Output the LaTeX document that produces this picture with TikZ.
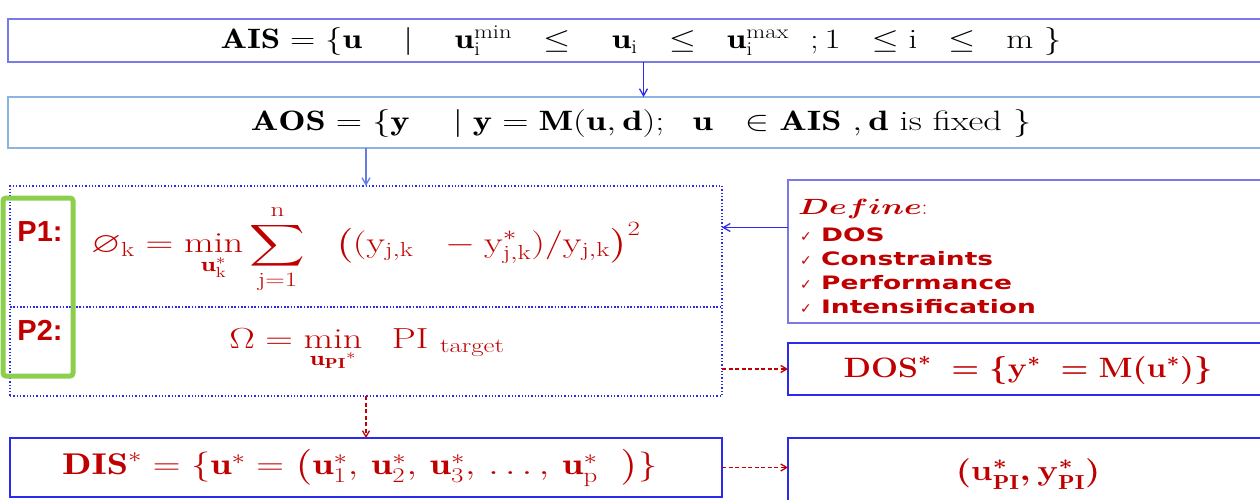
\RequirePackage{fix-cm}
\documentclass[tikz,border=0pt]{standalone}
\usepackage{amsmath,amssymb,bm}
\usepackage{fontspec}
\usepackage{graphicx}
\usetikzlibrary{arrows.meta}
\newfontfamily\labelfont{Liberation Sans}
\newfontfamily\listfont{DejaVu Sans}[FakeStretch=1.43]
\newfontfamily\tickfont{DejaVu Sans}
\newcommand\widen[2]{\scalebox{#1}[1]{#2}}
\definecolor{dred}{HTML}{C00000}
\definecolor{boxblue}{HTML}{2B2BF0}
\definecolor{aisblue}{HTML}{7A7AE6}
\definecolor{aosblue}{HTML}{8CB4E0}
\definecolor{lgreen}{HTML}{8CCF4C}
\begin{document}
\begin{tikzpicture}[x=1pt,y=-1pt,
  frame/.style={draw, line width=1.3pt, inner sep=0pt, outer sep=0pt, anchor=north west},
  formula/.style={inner sep=0pt},
  solidarrow/.style={draw=boxblue, line width=1.3pt, -{Straight Barb[length=7pt,width=8pt]}},
  dasharrow/.style={draw=dred, line width=1.3pt, dash pattern=on 4pt off 2.5pt, -{Straight Barb[length=6pt,width=7pt]}},
  redtext/.style={text=dred},
  listitem/.style={anchor=west, text=dred, inner sep=0pt, font=\listfont\bfseries\fontsize{18.5}{20}\selectfont}]
\useasboundingbox (0,0) rectangle (1260,500);
\clip (0,0) rectangle (1260,500);

% frames
\node[frame, draw=aisblue, minimum width=1257pt, minimum height=43pt] (ais) at (8,19) {};
\node[frame, draw=aosblue, minimum width=1257pt, minimum height=51pt] (aos) at (8,97) {};
\node[frame, draw=boxblue, dotted, line width=1.6pt, minimum width=712pt, minimum height=121pt] (p1) at (10,186) {};
\node[frame, draw=boxblue, dotted, line width=1.6pt, minimum width=712pt, minimum height=89pt] (p2) at (10,307) {};
\node[frame, draw=aisblue, minimum width=477pt, minimum height=143pt] (define) at (788,180) {};
\node[frame, draw=boxblue, minimum width=477pt, minimum height=52pt] (dos) at (788,343) {};
\node[frame, draw=boxblue, minimum width=712pt, minimum height=59pt] (dis) at (10,438) {};
\node[frame, draw=boxblue, minimum width=477pt, minimum height=67pt] (pi) at (788,438) {};

% set definitions
\node[formula, font=\fontsize{28}{30}\selectfont] (aistext) at (641,41)
  {\widen{1.25}{$\mathbf{AIS} = \{\mathbf{u}\ \ \ \mid\ \ \ \mathbf{u}_{\mathrm{i}}^{\min}\ \ \le\ \ \ \mathbf{u}_{\mathrm{i}}\ \ \le\ \ \mathbf{u}_{\mathrm{i}}^{\max}\ \ ;1\ \ \le\mathrm{i}\ \ \le\ \ \mathrm{m}\ \}$}};
\node[formula, font=\fontsize{28}{30}\selectfont] (aostext) at (641,124)
  {\widen{1.3}{$\mathbf{AOS} = \{\mathbf{y}\ \ \ \mid \mathbf{y} = \mathbf{M}(\mathbf{u},\mathbf{d});\ \ \mathbf{u}\ \ \in \mathbf{AIS}\ , \mathbf{d}\ \text{is fixed}\ \}$}};

% objective functions
\node[formula, redtext, font=\fontsize{29}{32}\selectfont] (p1text) at (366,249)
  {\widen{1.33}{$\displaystyle\varnothing_{\mathrm{k}} = \min_{\mathbf{u}_{\mathrm{k}}^{*}} \sum_{\mathrm{j}=1}^{\mathrm{n}}\ \ \big((\mathrm{y}_{\mathrm{j,k}}\ \ - \mathrm{y}^{*}_{\mathrm{j,k}})/\mathrm{y}_{\mathrm{j,k}}\big)^{2}$}};
\node[formula, redtext, font=\fontsize{29}{32}\selectfont] (p2text) at (367,350)
  {\widen{1.32}{$\Omega = \min\limits_{\mathbf{u}_{\mathbf{PI}}{}^{*}}\ \ \mathrm{PI}_{\ \mathrm{target}}$}};

% problem labels in the green frame
\draw[lgreen, line width=5pt, rounded corners=3pt] (3,198) rectangle (73,376);
\node[redtext, font=\labelfont\bfseries\fontsize{29}{30}\selectfont, inner sep=0pt] (l1) at (40,232) {P1:};
\node[redtext, font=\labelfont\bfseries\fontsize{29}{30}\selectfont, inner sep=0pt] (l2) at (40,330) {P2:};

% definition list
\node[anchor=west, redtext, inner sep=0pt, font=\fontsize{22}{24}\selectfont] (deftext) at (798,209)
  {\scalebox{1.45}[1]{$\boldsymbol{Define}$}:};
\node[listitem] (c1) at (800,235) {{\tickfont\mdseries\fontsize{14}{16}\selectfont ✓} DOS};
\node[listitem] (c2) at (800,259) {{\tickfont\mdseries\fontsize{14}{16}\selectfont ✓} Constraints};
\node[listitem] (c3) at (800,283) {{\tickfont\mdseries\fontsize{14}{16}\selectfont ✓} Performance};
\node[listitem] (c4) at (800,307) {{\tickfont\mdseries\fontsize{14}{16}\selectfont ✓} Intensification};

% results
\node[formula, redtext, font=\fontsize{28}{30}\selectfont\boldmath] (dostext) at (1028,370)
  {\widen{1.14}{$\mathbf{DOS}^{*}\ = \{\mathbf{y}^{*}\ = \mathbf{M}(\mathbf{u}^{*})\}$}};
\node[formula, redtext, font=\fontsize{30}{32}\selectfont] (distext) at (360,468)
  {\widen{1.28}{$\mathbf{DIS}^{*} = \{\mathbf{u}^{*} = \big(\mathbf{u}_1^{*},\, \mathbf{u}_2^{*},\, \mathbf{u}_3^{*},\, \ldots,\, \mathbf{u}_{\mathrm{p}}^{*}\ \ \big)\}$}};
\node[formula, redtext, font=\fontsize{29}{32}\selectfont\boldmath] (pitext) at (1028,474)
  {\widen{1.2}{$(\mathbf{u}^{*}_{\mathrm{PI}},\mathbf{y}^{*}_{\mathrm{PI}})$}};

% connectors
\draw[solidarrow] ([xshift=7pt]ais.south) -- ([xshift=7pt]ais.south |- aos.north);
\draw[solidarrow, draw=aosblue!60!boxblue] (p1.north |- aos.south) -- (p1.north);
\draw[solidarrow] ([yshift=24pt]define.west) -- ([yshift=24pt]define.west -| p1.east);
\draw[dasharrow] (dos.west -| p2.east) -- (dos.west);
\draw[dasharrow] (p2.south) -- (dis.north);
\draw[dasharrow] (dis.east) -- (dis.east -| pi.west);
\end{tikzpicture}
\end{document}
